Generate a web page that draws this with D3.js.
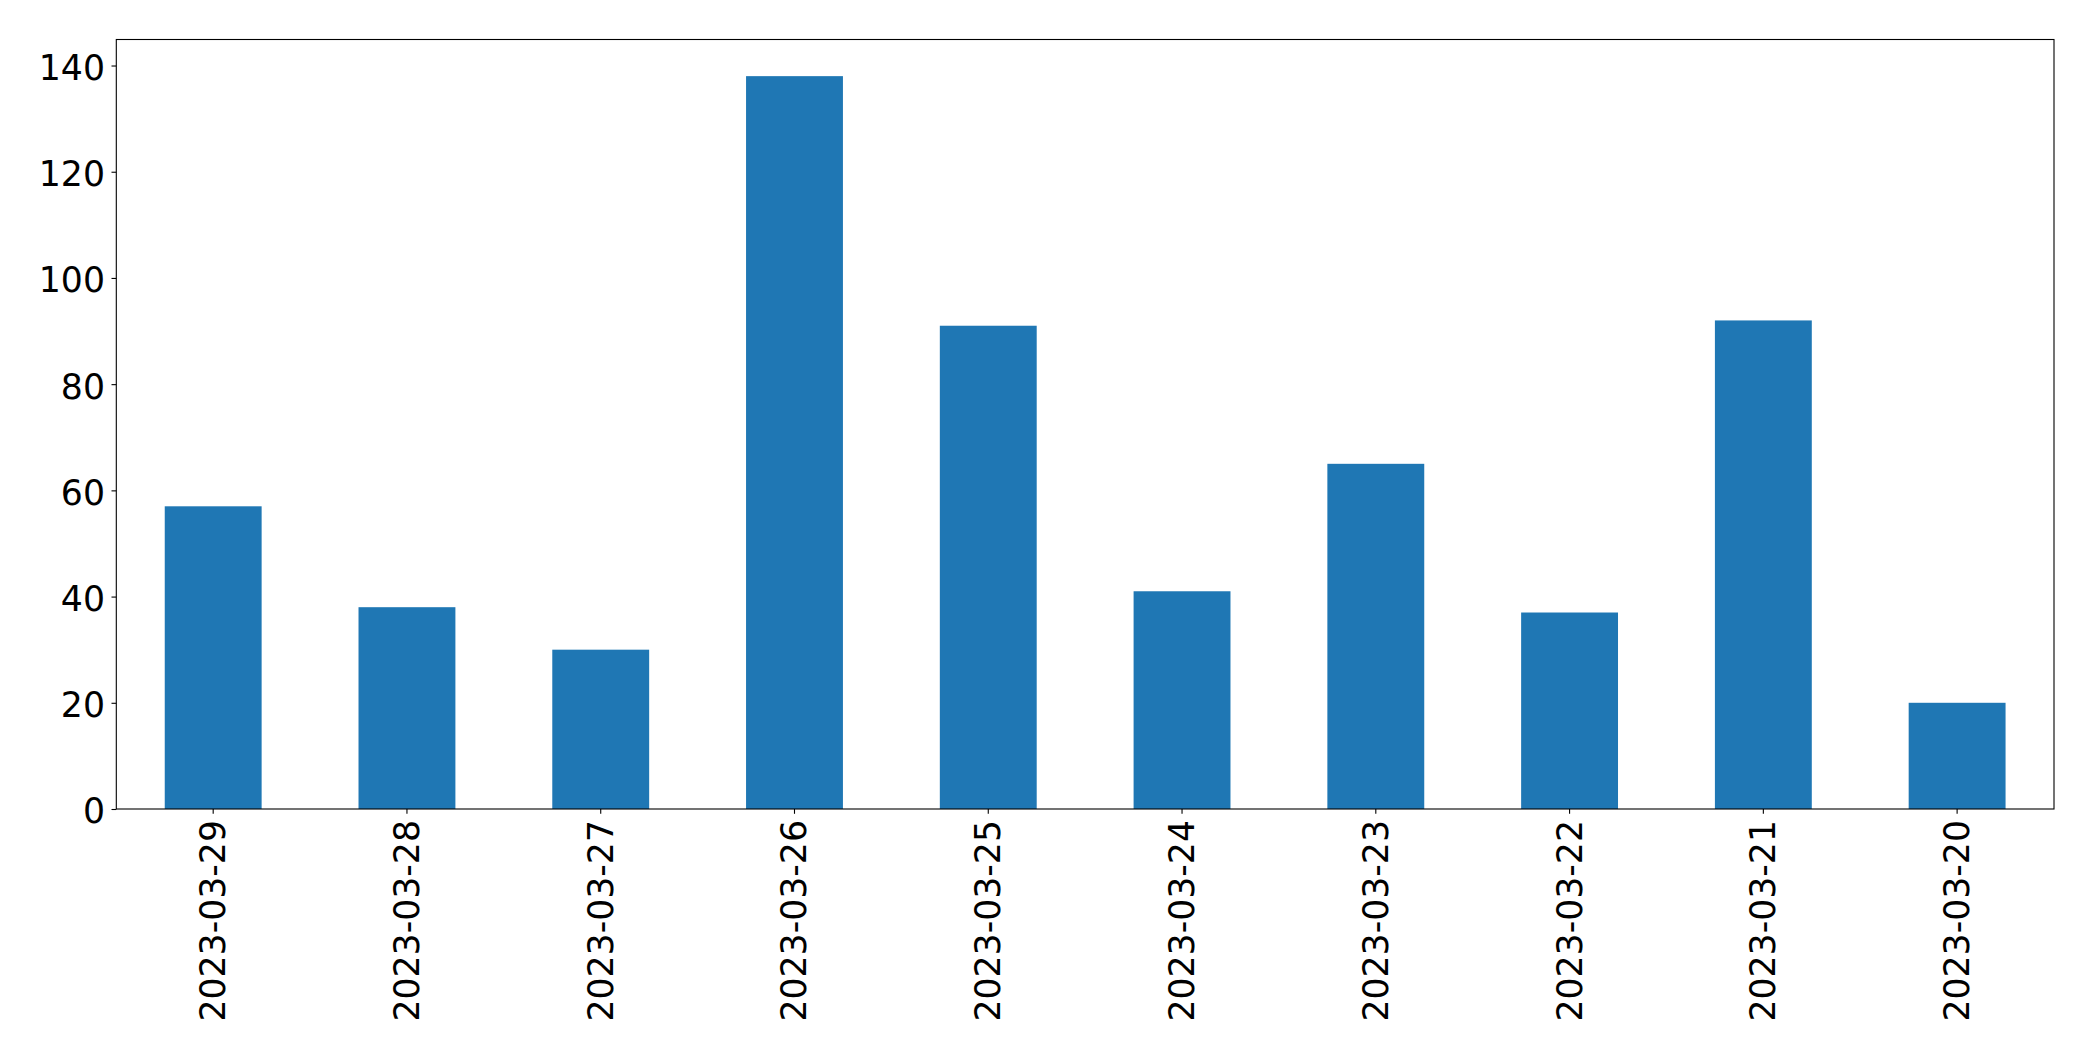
<!DOCTYPE html>
<html>
<head>
<meta charset="utf-8">
<script src="https://cdn.jsdelivr.net/npm/d3@7"></script>
<style>
  html, body { margin: 0; padding: 0; background: #fff; }
  svg { display: block; }
  text { font-family: "DejaVu Sans", sans-serif; fill: #000; }
</style>
</head>
<body>
<script>
const categories = ["2023-03-29","2023-03-28","2023-03-27","2023-03-26","2023-03-25","2023-03-24","2023-03-23","2023-03-22","2023-03-21","2023-03-20"];
const values = [57, 38, 30, 138, 91, 41, 65, 37, 92, 20];
const yTicks = [0, 20, 40, 60, 80, 100, 120, 140];

const W = 2093, H = 1061;
const m = { left: 116.3, right: 2054, top: 39.5, bottom: 809 };
const fontSize = 34.7;

const svg = d3.select("body").append("svg").attr("width", W).attr("height", H);

const x = d3.scaleBand().domain(categories).range([m.left, m.right]).paddingInner(0.5).paddingOuter(0.25);
const y = d3.scaleLinear().domain([0, 138 * 1.05]).range([m.bottom, m.top]);

svg.append("g").selectAll("rect").data(values).join("rect")
  .attr("x", (d, i) => x(categories[i]))
  .attr("width", x.bandwidth())
  .attr("y", d => y(d))
  .attr("height", d => y(0) - y(d))
  .attr("fill", "#1f77b4");

const yAxis = d3.axisLeft(y).tickValues(yTicks).tickSize(4.8).tickPadding(6.5).tickFormat(d3.format("d"));
const gy = svg.append("g").attr("transform", `translate(${m.left},0)`).call(yAxis);
gy.select(".domain").remove();
gy.selectAll("line").attr("stroke", "#000").attr("stroke-width", 1.1);
gy.selectAll("text").attr("font-size", fontSize).attr("font-family", "DejaVu Sans").attr("dy", "0.40em");

const xAxis = d3.axisBottom(x).tickSize(4.8).tickPadding(0);
const gx = svg.append("g").attr("transform", `translate(0,${m.bottom})`).call(xAxis);
gx.select(".domain").remove();
gx.selectAll("line").attr("stroke", "#000").attr("stroke-width", 1.1);
gx.selectAll("text")
  .attr("font-size", fontSize).attr("font-family", "DejaVu Sans")
  .attr("text-anchor", "end")
  .attr("dy", null)
  .attr("dominant-baseline", "central")
  .attr("transform", "translate(0,11) rotate(-90)")
  .attr("x", 0).attr("y", 0);

svg.append("rect")
  .attr("x", m.left).attr("y", m.top)
  .attr("width", m.right - m.left).attr("height", m.bottom - m.top)
  .attr("fill", "none").attr("stroke", "#000").attr("stroke-width", 1.1);
</script>
</body>
</html>
